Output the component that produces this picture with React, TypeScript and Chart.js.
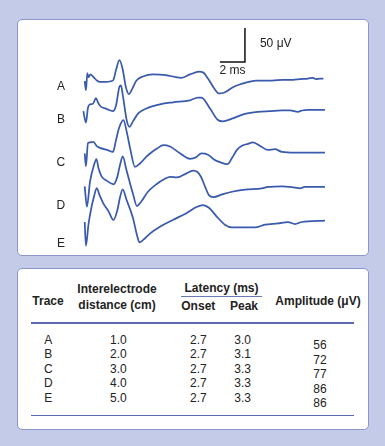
import React, { useEffect, useRef } from "react";
import { Chart, registerables } from "chart.js";

Chart.register(...registerables);

// ---- Trace data (time in ms from stimulus, amplitude in µV relative to baseline) ----
const TRACE_NAMES = ["A", "B", "C", "D", "E"];

const A_T = [0, 0.1, 0.21, 0.3, 0.46, 0.66, 0.98, 1.22, 1.7, 2.1, 2.3, 2.5, 2.78, 3.02, 3.3, 3.54, 3.78, 4.14, 4.66, 5.46, 6.5, 7.3, 7.7, 8.42, 9.14, 9.46, 9.86, 10.34, 10.74, 11.14, 11.94, 12.9, 13.7, 14.98, 15.86, 16.66, 17.22, 17.86, 18.26, 18.5, 18.82, 19.1];
const A_V = [-3, -16, 9, 3, 7, 4, -2, -4, -4, -3, -1, 13, 28, 16, -12, -22, -15, -2, 4, 7, 6, 3, 2, 7, 11, 10, 1, -13, -21, -20, -11, -5, -2, -2, -1, -1, 0, 1, 2, 0, 1, 1];

const B_T = [-0.11, 0.1, 0.26, 0.42, 0.66, 0.9, 1.06, 1.22, 1.78, 2.26, 2.5, 2.78, 2.9, 3.06, 3.38, 3.58, 3.86, 4.3, 4.94, 6.02, 7.06, 8.42, 9.06, 9.34, 10.02, 10.66, 11.06, 11.78, 12.82, 13.86, 14.82, 15.78, 16.42, 17.06, 17.38, 17.86, 19.22];
const B_V = [-1, -18, 4, 9, 10, 18, 12, 7, 2, -1, 7, 35, 37, 21, -16, -24, -16, -4, 3, 9, 12, 15, 19, 19, 3, -14, -16, -12, -5, -2, -1, 0, 0, -2, 0, 1, 1];

const C_T = [0, 0.1, 0.26, 0.42, 0.7, 0.94, 1.22, 1.78, 2.26, 2.5, 2.74, 3.1, 3.38, 3.66, 4.02, 4.42, 4.94, 5.38, 5.78, 6.3, 6.82, 7.62, 8.42, 8.9, 9.34, 9.86, 10.34, 10.82, 11.42, 11.78, 12.18, 12.58, 13.06, 13.46, 14.1, 14.66, 15.22, 15.78, 16.82, 18.02, 19.22];
const C_V = [-1, -20, 14, 15, 16, 10, 7, 4, 1, 18, 36, 48, 29, 4, -21, -16, -6, 1, 6, 11, 9, -1, -9, -7, -1, -3, -10, -14, -17, -8, 4, 10, 13, 15, 9, 4, 5, 1, 0, 0, 0];

const D_T = [0, 0.18, 0.42, 0.74, 0.94, 1.1, 1.34, 1.78, 2.3, 2.58, 2.82, 3.04, 3.34, 3.86, 4.18, 4.54, 5.06, 5.74, 6.42, 6.82, 7.38, 8.14, 8.66, 9.02, 9.3, 9.62, 9.94, 10.3, 10.98, 11.78, 12.82, 14.18, 14.66, 15.78, 16.82, 17.22, 17.62, 19.22];
const D_V = [1, -29, 7, 32, 41, 28, 16, 9, 4, 13, 32, 45, 25, -10, -28, -21, -7, 4, 12, 15, 14, 20, 24, 22, 15, 1, -12, -15, -11, -7, -4, -2, 0, 1, -1, -2, 0, 0];

const E_T = [0, 0.1, 0.3, 0.5, 0.74, 0.96, 1.18, 1.5, 1.9, 2.3, 2.62, 2.82, 3.04, 3.34, 3.86, 4.18, 4.38, 4.7, 5.22, 6.02, 7.06, 8.14, 8.94, 9.46, 9.94, 10.56, 11.22, 11.76, 13.62, 14.42, 15.46, 16.26, 16.82, 17.36, 19.22];
const E_V = [-1, -36, -5, 17, 36, 49, 39, 26, 15, 2, 17, 35, 47, 32, 5, -20, -31, -27, -18, -8, 2, 12, 21, 24, 20, 7, -5, -9, -9, -5, -3, -1, -4, -1, 1];

const TRACE_TIMES = [A_T, B_T, C_T, D_T, E_T];
const TRACE_VALUES = [A_V, B_V, C_V, D_V, E_V];
// vertical stacking offsets of each trace baseline (µV)
const TRACE_OFFSETS = [260, 214, 152, 101.5, 51];
// label vertical positions (µV) and time position (ms)
const LABEL_UV = [248.5, 200, 136.8, 73.5, 17.6];
const LABEL_T = -1.9;

// calibration bar
const BAR_MS = 2;
const BAR_UV = 50;
const BAR_CORNER_T = 12.82;
const BAR_CORNER_UV = 285.3;

// ---- Table data ----
const TABLE_TRACE = ["A", "B", "C", "D", "E"];
const TABLE_DISTANCE = ["1.0", "2.0", "3.0", "4.0", "5.0"];
const TABLE_ONSET = ["2.7", "2.7", "2.7", "2.7", "2.7"];
const TABLE_PEAK = ["3.0", "3.1", "3.3", "3.3", "3.3"];
const TABLE_AMPLITUDE = ["56", "72", "77", "86", "86"];

const BG = "#c4cbe8";
const PANEL_BORDER = "#8b97cc";
const LINE = "#3a5aae";
const TEXT = "#222";
const FONT = '"Liberation Sans", Arial, Helvetica, sans-serif';

const X_MIN = -5.336;
const X_MAX = 22.664;
const Y_MIN = 0;
const Y_MAX = 347.06;

const textPlugin = {
  id: "traceText",
  afterDatasetsDraw(chart: any) {
    const { ctx, scales } = chart;
    const xs = scales.x;
    const ys = scales.y;
    ctx.save();
    ctx.fillStyle = TEXT;
    ctx.font = `12px ${FONT}`;
    ctx.textAlign = "center";
    ctx.textBaseline = "middle";
    TRACE_NAMES.forEach((n, i) => {
      ctx.fillText(n, xs.getPixelForValue(LABEL_T), ys.getPixelForValue(LABEL_UV[i]));
    });
    // calibration labels
    ctx.textAlign = "left";
    ctx.fillText(
      `${BAR_UV} μV`,
      xs.getPixelForValue(BAR_CORNER_T + 1.2),
      ys.getPixelForValue(BAR_CORNER_UV + BAR_UV * 0.53)
    );
    ctx.textAlign = "center";
    ctx.fillText(
      `${BAR_MS} ms`,
      xs.getPixelForValue(BAR_CORNER_T - BAR_MS / 2),
      ys.getPixelForValue(BAR_CORNER_UV - 13.3)
    );
    ctx.restore();
  },
};

function TraceChart() {
  const ref = useRef<HTMLCanvasElement | null>(null);
  useEffect(() => {
    if (!ref.current) return;
    const datasets: any[] = TRACE_NAMES.map((name, i) => ({
      label: name,
      data: TRACE_TIMES[i].map((t, j) => ({ x: t, y: TRACE_VALUES[i][j] + TRACE_OFFSETS[i] })),
      borderColor: LINE,
      borderWidth: 1.75,
      pointRadius: 0,
      fill: false,
      cubicInterpolationMode: "monotone",
    }));
    datasets.push({
      label: "bar",
      data: [
        { x: BAR_CORNER_T - BAR_MS, y: BAR_CORNER_UV },
        { x: BAR_CORNER_T, y: BAR_CORNER_UV },
        { x: BAR_CORNER_T, y: BAR_CORNER_UV + BAR_UV },
      ],
      borderColor: "#111",
      borderWidth: 1.5,
      pointRadius: 0,
      tension: 0,
      fill: false,
    });
    const chart = new Chart(ref.current, {
      type: "line",
      data: { datasets },
      options: {
        responsive: false,
        animation: false,
        devicePixelRatio: 1,
        layout: { padding: 0 },
        plugins: { legend: { display: false }, tooltip: { enabled: false } },
        events: [],
        scales: {
          x: { type: "linear", min: X_MIN, max: X_MAX, display: false },
          y: { type: "linear", min: Y_MIN, max: Y_MAX, display: false },
        },
      },
      plugins: [textPlugin],
    } as any);
    return () => chart.destroy();
  }, []);
  return (
    <canvas
      ref={ref}
      width={350}
      height={236}
      style={{ position: "absolute", left: 18, top: 20, width: 350, height: 236 }}
    />
  );
}

function Cell({ x, y, text, bold }: { x: number; y: number; text: string; bold?: boolean }) {
  return (
    <div
      style={{
        position: "absolute",
        left: x,
        top: y,
        transform: "translate(-50%, -50%)",
        whiteSpace: "nowrap",
        fontFamily: FONT,
        fontSize: 12,
        fontWeight: bold ? "bold" : "normal",
        color: TEXT,
        lineHeight: "14px",
      }}
    >
      {text}
    </div>
  );
}

export default function App() {
  const rowY = (i: number) => 339.5 + i * 14.5;
  const ampY = (i: number) => 345.3 + i * 14.4;
  return (
    <div
      style={{
        position: "absolute",
        left: 0,
        top: 0,
        width: 385,
        height: 446,
        background: BG,
        overflow: "hidden",
      }}
    >
      <div
        style={{
          position: "absolute",
          left: 17,
          top: 19,
          width: 352,
          height: 237,
          boxSizing: "border-box",
          background: "#fff",
          border: `1px solid ${PANEL_BORDER}`,
          borderRadius: 5,
        }}
      />
      <TraceChart />
      <div
        style={{
          position: "absolute",
          left: 17,
          top: 268,
          width: 352,
          height: 162,
          boxSizing: "border-box",
          background: "#fff",
          border: `1px solid ${PANEL_BORDER}`,
          borderRadius: 5,
        }}
      />
      {/* header */}
      <Cell x={48} y={300.7} text="Trace" bold />
      <Cell x={117} y={289} text="Interelectrode" bold />
      <Cell x={117} y={305} text="distance (cm)" bold />
      <Cell x={221.5} y={287.7} text="Latency (ms)" bold />
      <div style={{ position: "absolute", left: 181, top: 296, width: 81, height: 1, background: "#6a78b8" }} />
      <Cell x={198.3} y={305.7} text="Onset" bold />
      <Cell x={244} y={305.7} text="Peak" bold />
      <Cell x={318} y={300.7} text="Amplitude (μV)" bold />
      <div style={{ position: "absolute", left: 31, top: 322, width: 323, height: 1.5, background: "#5b6bb3" }} />
      {TABLE_TRACE.map((t, i) => (
        <React.Fragment key={t}>
          <Cell x={48.3} y={rowY(i)} text={t} />
          <Cell x={118.3} y={rowY(i)} text={TABLE_DISTANCE[i]} />
          <Cell x={198.3} y={rowY(i)} text={TABLE_ONSET[i]} />
          <Cell x={242.7} y={rowY(i)} text={TABLE_PEAK[i]} />
          <Cell x={320} y={ampY(i)} text={TABLE_AMPLITUDE[i]} />
        </React.Fragment>
      ))}
      <div style={{ position: "absolute", left: 31, top: 414.5, width: 323, height: 1.5, background: "#5b6bb3" }} />
    </div>
  );
}
